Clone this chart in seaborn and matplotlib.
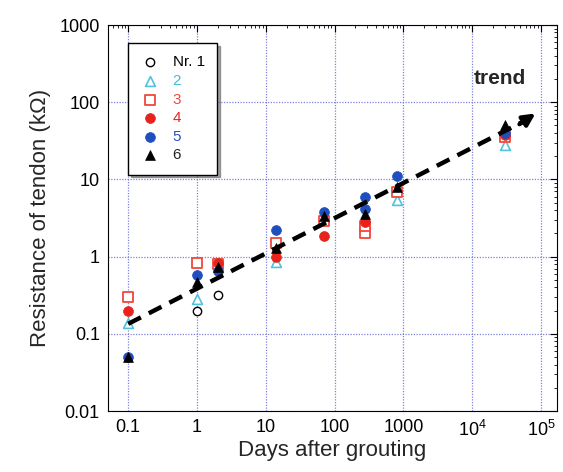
import matplotlib
matplotlib.use("Agg")
import matplotlib.pyplot as plt
import seaborn as sns
import pandas as pd
import numpy as np
from matplotlib.ticker import FixedLocator, FixedFormatter, LogLocator, NullFormatter

sns.set_style("white")
plt.rcParams['font.family'] = ['Liberation Sans', 'DejaVu Sans']
plt.rcParams['mathtext.default'] = 'regular'

# ---- data ----
days1 = [1, 2]
res1 = [0.2, 0.32]
days2 = [0.1, 1, 14, 800, 30000]
res2 = [0.14, 0.28, 0.85, 5.5, 28]
days3 = [0.1, 1, 2, 14, 70, 280, 280, 800, 30000]
res3 = [0.3, 0.83, 0.8, 1.5, 2.9, 2.05, 2.5, 6.8, 35]
days4 = [0.1, 2, 14, 70, 280, 30000]
res4 = [0.2, 0.84, 1.0, 1.85, 2.8, 38]
days5 = [0.1, 1, 2, 14, 70, 280, 280, 800, 30000]
res5 = [0.05, 0.58, 0.66, 2.2, 3.8, 6.0, 4.2, 11, 40]
days6 = [0.1, 1, 2, 14, 70, 280, 800, 30000]
res6 = [0.05, 0.47, 0.74, 1.3, 3.4, 3.6, 8, 50]
trend_days = [0.1, 9e4]
trend_res = [0.135, 75]

labels = ["Nr. 1", "2", "3", "4", "5", "6"]
xticks = [0.1, 1, 10, 100, 1000, 1e4, 1e5]
xticklabels = ["0.1", "1", "10", "100", "1000", r"$10^4$", r"$10^5$"]
yticks = [0.01, 0.1, 1, 10, 100, 1000]
yticklabels = ["0.01", "0.1", "1", "10", "100", "1000"]

series = [
    (days1, res1, labels[0], dict(marker="o", facecolor="white", edgecolor="black", s=36, linewidth=1.0), "black"),
    (days2, res2, labels[1], dict(marker="^", facecolor="white", edgecolor="#4fc3dc", s=50, linewidth=1.2), "#3bbfd6"),
    (days3, res3, labels[2], dict(marker="s", facecolor="white", edgecolor="#f0483c", s=46, linewidth=1.3), "#f0483c"),
    (days4, res4, labels[3], dict(marker="o", facecolor="#e8231c", edgecolor="#e8231c", s=50, linewidth=0.5), "#e8231c"),
    (days5, res5, labels[4], dict(marker="o", facecolor="#1f4fbf", edgecolor="#1f4fbf", s=50, linewidth=0.5), "#2a4fbf"),
    (days6, res6, labels[5], dict(marker="^", facecolor="black", edgecolor="black", s=50, linewidth=0.5), "#222222"),
]

fig = plt.figure(figsize=(5.63, 4.72), dpi=100)
ax = fig.add_axes([0.192, 0.129, 0.797, 0.818])

for d, r, lab, kw, tc in series:
    df = pd.DataFrame({"days": d, "res": r})
    sns.scatterplot(data=df, x="days", y="res", ax=ax, label=lab, zorder=3, **kw)

ax.set_xscale("log")
ax.set_yscale("log")
ax.set_xlim(0.051, 1.7e5)
ax.set_ylim(0.01, 1000)

# trend arrow
tdf = pd.DataFrame({"days": [trend_days[0], trend_days[1] * 0.75], "res": [trend_res[0], trend_res[1] * 0.82]})
sns.lineplot(data=tdf, x="days", y="res", ax=ax, color="black", linewidth=3.2,
             linestyle=(0, (3.2, 2)), zorder=4, legend=False)
ax.annotate("", xy=(trend_days[1], trend_res[1]), xytext=(trend_days[1] * 0.5, trend_res[1] * 0.66),
            arrowprops=dict(arrowstyle="-|>", color="black", lw=3, mutation_scale=18), zorder=5)
ax.text(1.05e4, 200, "trend", fontsize=15, fontweight="bold", ha="left", va="center")

# grid
ax.grid(True, which="major", color="#6a6ad8", linestyle=(0, (1, 1.2)), linewidth=0.9, alpha=0.85)
ax.set_axisbelow(True)

ax.xaxis.set_major_locator(FixedLocator(xticks))
ax.xaxis.set_major_formatter(FixedFormatter(xticklabels))
ax.yaxis.set_major_locator(FixedLocator(yticks))
ax.yaxis.set_major_formatter(FixedFormatter(yticklabels))
ax.xaxis.set_minor_locator(LogLocator(base=10, subs=np.arange(2, 10)))
ax.yaxis.set_minor_locator(LogLocator(base=10, subs=np.arange(2, 10)))
ax.xaxis.set_minor_formatter(NullFormatter())
ax.yaxis.set_minor_formatter(NullFormatter())
ax.tick_params(which="both", direction="in", top=True, right=True, colors="black", labelsize=13)
ax.tick_params(which="major", length=5, width=0.8, pad=6)
ax.tick_params(which="minor", length=2.5, width=0.6)
for sp in ax.spines.values():
    sp.set_color("black")
    sp.set_linewidth(0.8)

ax.set_xlabel("Days after grouting", fontsize=16, labelpad=0)
ax.set_ylabel("Resistance of tendon (k\u03a9)", fontsize=16, labelpad=6)

leg = ax.legend(loc="upper left", bbox_to_anchor=(0.045, 0.953), frameon=True, fancybox=False,
                shadow=True, fontsize=11, handletextpad=0.9, borderpad=0.8, labelspacing=0.3,
                handlelength=1.2, borderaxespad=0)
leg.get_frame().set_edgecolor("black")
leg.get_frame().set_linewidth(1.0)
for txt, (_, _, _, _, tc) in zip(leg.get_texts(), series):
    txt.set_color(tc)

fig.savefig("out.png", dpi=100)
